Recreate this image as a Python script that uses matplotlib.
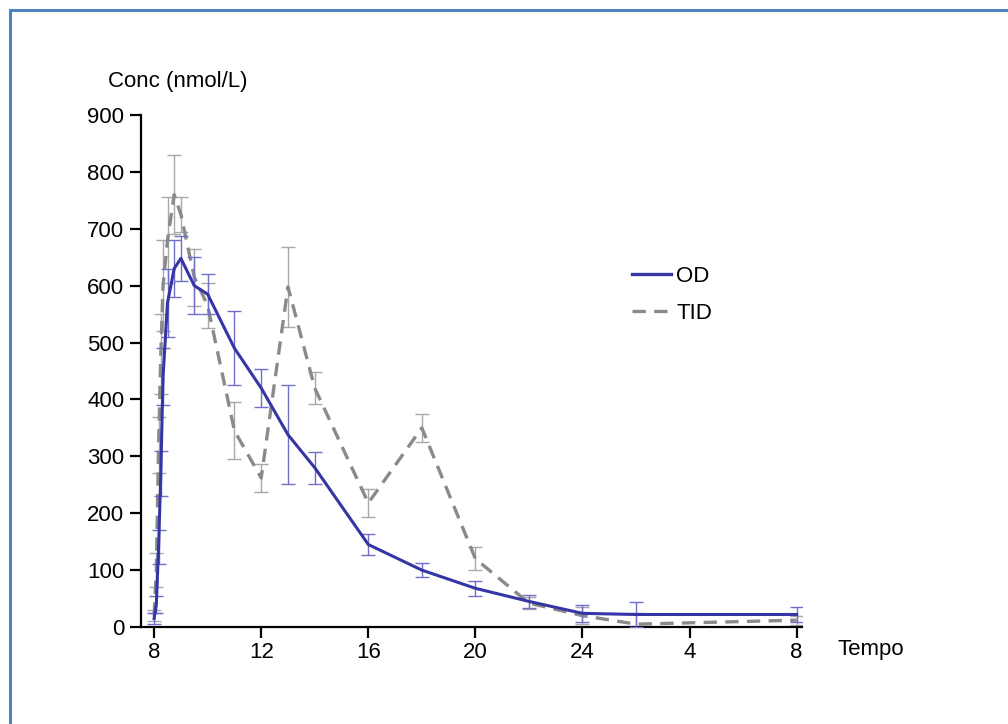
import matplotlib
matplotlib.use("Agg")
import matplotlib.pyplot as plt
from matplotlib.patches import Rectangle
from matplotlib.lines import Line2D

plt.rcParams['font.family'] = ['Liberation Sans', 'DejaVu Sans']

# sampling times (hours; next-day hours continue past 24)
times = [8.0, 8.083, 8.167, 8.25, 8.333, 8.5, 8.75, 9.0, 9.5, 10, 11, 12, 13, 14, 16, 18, 20, 22, 24, 26, 32]
od_mean = [15, 40, 140, 270, 440, 570, 630, 648, 600, 585, 490, 420, 338, 280, 145, 100, 68, 45, 24, 22, 22]
od_err = [10, 15, 30, 40, 50, 60, 50, 40, 50, 35, 65, 33, 87, 28, 18, 12, 13, 12, 15, 22, 13]
tid_mean = [20, 100, 320, 480, 600, 680, 760, 725, 615, 565, 345, 262, 598, 420, 218, 350, 120, 42, 20, 5, 12]
tid_err = [10, 30, 50, 70, 80, 75, 70, 30, 50, 40, 50, 25, 70, 28, 25, 25, 20, 10, 15, 20, 8]

xtick_pos = [8, 12, 16, 20, 24, 28, 32]
xtick_labels = ["8", "12", "16", "20", "24", "4", "8"]
ytick_pos = [0, 100, 200, 300, 400, 500, 600, 700, 800, 900]

fig = plt.figure(figsize=(10.08, 7.24), dpi=100)
ax = fig.add_axes([141/1008, 1 - 627/724, (802 - 141)/1008, (627 - 115)/724])

blue = "#3535a5"
grey = "#8a8a8a"

ax.errorbar(times, tid_mean, yerr=tid_err, color=grey, ls=(0, (4, 2.5)), lw=2.4,
            ecolor="#a8a8a8", elinewidth=1.0, capsize=5, capthick=1.0, zorder=2)
ax.errorbar(times, od_mean, yerr=od_err, color=blue, ls="-", lw=2.2,
            ecolor="#7070c8", elinewidth=1.0, capsize=5, capthick=1.0, zorder=3)

ax.set_xlim(7.51, 32.2)
ax.set_ylim(0, 900)
ax.set_xticks(xtick_pos)
ax.set_xticklabels(xtick_labels)
ax.set_yticks(ytick_pos)
for s in ["top", "right"]:
    ax.spines[s].set_visible(False)
for s in ["left", "bottom"]:
    ax.spines[s].set_linewidth(1.6)
ax.tick_params(axis="both", direction="out", length=8, width=1.6, labelsize=16, colors="black")
ax.tick_params(axis="y", pad=4)
ax.tick_params(axis="x", pad=3)

h_od = Line2D([], [], color=blue, lw=2.4)
h_tid = Line2D([], [], color=grey, lw=2.4, ls=(0, (4, 2.5)))
ax.legend([h_od, h_tid], ["OD", "TID"],
          loc="upper left", bbox_to_anchor=(0.712, 0.745), frameon=False,
          fontsize=16, handlelength=1.75, handletextpad=0.25, labelspacing=0.75)

fig.text(248/1008, 1 - 82/724, "Conc (nmol/L)", fontsize=16, va="center", ha="right")
fig.text(838/1008, 1 - 650/724, "Tempo", fontsize=16, va="center", ha="left")

# blue frame around the figure
fig.patches.append(Rectangle((9.5/1008, -0.05), 1.1, 1 - 9.5/724 + 0.05, transform=fig.transFigure,
                             fill=False, edgecolor="#4f81bd", linewidth=2.2))

fig.savefig("out.png", dpi=100)
